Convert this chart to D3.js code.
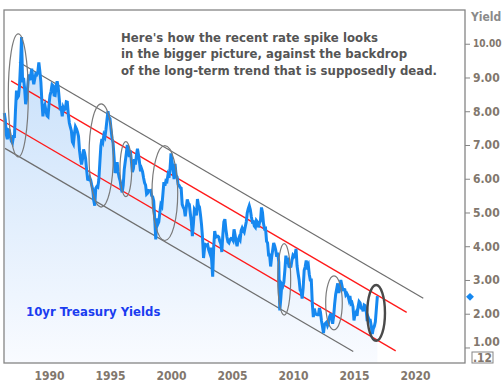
<!DOCTYPE html>
<html>
<head>
<meta charset="utf-8">
<script src="https://cdn.jsdelivr.net/npm/d3@7"></script>
<style>
  body { margin: 0; background: #fff; }
  svg { display: block; }
  text { font-family: "DejaVu Sans Condensed", "DejaVu Sans", sans-serif; font-weight: bold; }
</style>
</head>
<body>
<svg id="chart"></svg>
<script>
// monthly 10yr yields, May 1986 .. Dec 2016
const startYear = 1986, startMonth = 5;
const yields = [
  7.95, 7.75, 7.30, 7.17, 7.45, 7.43, 7.25, 7.11,
  7.06, 7.25, 7.25, 8.02, 8.61, 8.40, 8.45, 8.76, 9.42, 10.2, 8.86, 8.99,
  8.67, 8.21, 8.37, 8.72, 9.09, 8.92, 9.06, 9.26, 8.98, 8.80, 8.96, 9.11,
  9.09, 9.17, 9.45, 9.18, 8.86, 8.28, 7.85, 8.11, 8.19, 8.01, 7.87, 7.84,
  8.21, 8.47, 8.59, 8.79, 8.76, 8.48, 8.47, 8.75, 8.89, 8.72, 8.39, 8.08,
  8.09, 7.85, 8.11, 8.04, 8.07, 8.28, 8.27, 7.90, 7.65, 7.53, 7.42, 7.09,
  7.03, 7.34, 7.54, 7.48, 7.39, 7.26, 6.84, 6.59, 6.42, 6.59, 6.87, 6.77,
  6.60, 6.26, 5.98, 5.97, 6.04, 5.96, 5.81, 5.68, 5.36, 5.20, 5.72, 5.77,
  5.75, 5.97, 6.48, 6.97, 7.18, 7.10, 7.30, 7.24, 7.46, 7.74, 8.00, 7.81,
  7.78, 7.47, 7.20, 7.06, 6.63, 6.17, 6.28, 6.49, 6.20, 6.04, 5.93, 5.71,
  5.60, 5.81, 6.27, 6.51, 6.74, 7.00, 6.87, 6.64, 6.83, 6.53, 6.20, 6.30,
  6.58, 6.42, 6.69, 6.89, 6.71, 6.49, 6.22, 6.30, 6.21, 6.03, 5.88, 5.81,
  5.54, 5.57, 5.65, 5.64, 5.65, 5.50, 5.46, 5.34, 4.81, 4.20, 4.83, 4.65,
  4.72, 5.00, 5.23, 5.18, 5.54, 5.90, 5.79, 5.94, 5.92, 6.11, 6.03, 6.28,
  6.75, 6.52, 6.26, 5.99, 6.44, 6.10, 6.05, 5.83, 5.80, 5.74, 5.72, 5.24,
  5.16, 5.10, 4.89, 5.14, 5.39, 5.28, 5.24, 4.97, 4.73, 4.30, 4.65, 5.09,
  5.04, 4.91, 5.40, 5.21, 5.16, 4.93, 4.65, 4.26, 3.65, 3.94, 4.05, 4.03,
  4.05, 3.90, 3.81, 3.96, 3.57, 3.10, 3.98, 4.45, 4.27, 4.29, 4.30, 4.27,
  4.15, 4.08, 3.83, 4.35, 4.72, 4.80, 4.50, 4.28, 4.13, 4.10, 4.19, 4.23,
  4.22, 4.17, 4.50, 4.34, 4.14, 4.00, 4.18, 4.26, 4.20, 4.46, 4.54, 4.47,
  4.42, 4.57, 4.72, 4.99, 5.11, 5.20, 5.09, 4.88, 4.72, 4.73, 4.60, 4.56,
  4.76, 4.72, 4.56, 4.69, 4.75, 5.15, 5.00, 4.67, 4.52, 4.53, 4.15, 4.10,
  3.74, 3.74, 3.40, 3.68, 3.88, 4.10, 4.01, 3.89, 3.69, 3.81, 3.53, 2.10,
  2.45, 2.87, 2.82, 2.93, 3.29, 3.72, 3.56, 3.59, 3.40, 3.39, 3.40, 3.59,
  3.73, 3.69, 3.73, 3.92, 3.42, 3.20, 3.01, 2.70, 2.65, 2.45, 2.76, 3.29,
  3.39, 3.58, 3.41, 3.46, 3.17, 3.00, 3.00, 2.30, 1.90, 2.15, 2.01, 1.98,
  1.97, 1.97, 2.17, 2.05, 1.80, 1.62, 1.43, 1.68, 1.72, 1.75, 1.65, 1.72,
  1.91, 1.98, 1.96, 1.70, 1.93, 2.30, 2.58, 2.74, 2.90, 2.62, 2.72, 3.00,
  2.86, 2.71, 2.72, 2.71, 2.56, 2.60, 2.54, 2.42, 2.53, 2.30, 2.33, 2.21,
  1.80, 1.98, 2.04, 1.94, 2.20, 2.36, 2.32, 2.17, 2.17, 2.07, 2.26, 2.24,
  2.09, 1.78, 1.89, 1.81, 1.81, 1.64, 1.40, 1.56, 1.63, 1.76, 2.14, 2.52
];
const yearTicks = [1990, 1995, 2000, 2005, 2010, 2015, 2020];
const yieldTicks = [1, 2, 3, 4, 5, 6, 7, 8, 9, 10];
const lastYield = 2.5;
const minLabel = '.12';

// trend channel: [year, yield] end points
const grayLines = [
  [[1987.54, 9.45], [2020.68, 2.46]],
  [[1986.39, 6.90], [2014.94, 0.88]]
];
const redLines = [
  [[1986.89, 8.90], [2019.32, 2.04]],
  [[1985.98, 7.76], [2018.42, 0.90]]
];
// ellipses: [yearFrom, yearTo, yieldLow, yieldHigh]
const turnEllipses = [
  [1986.66, 1988.30, 6.65, 10.29],
  [1993.28, 1995.27, 5.16, 8.22],
  [1995.82, 1996.78, 5.47, 7.10],
  [1998.44, 2000.55, 4.17, 6.98],
  [2008.75, 2009.81, 1.96, 4.08],
  [2012.68, 2014.04, 1.52, 3.12]
];
const currentEllipse = [2016.09, 2017.54, 1.20, 2.85];

const noteLines = [
  "Here's how the recent rate spike looks",
  'in the bigger picture, against the backdrop',
  'of the long-term trend that is supposedly dead.'
];
const noteWidths = [257, 286, 316];
const seriesName = '10yr Treasury Yields';

const width = 503, height = 383;
const plot = { left: 4, top: 10, right: 465, bottom: 363 };

const svg = d3.select('#chart').attr('width', width).attr('height', height);

const x = d3.scaleLinear().domain([1986.31, 2024.1]).range([plot.left, plot.right]);
const y = d3.scaleLinear().domain([0.54, 11.0]).range([plot.bottom, plot.top]);

const data = yields.map((v, i) => ({ t: startYear + (startMonth - 1 + i) / 12, v }));

// gradient under the line
const defs = svg.append('defs');
const grad = defs.append('linearGradient')
  .attr('id', 'area-grad')
  .attr('gradientUnits', 'userSpaceOnUse')
  .attr('x1', 0).attr('x2', 0)
  .attr('y1', plot.top + 20).attr('y2', plot.bottom);
grad.append('stop').attr('offset', '0%').attr('stop-color', '#c4defa');
grad.append('stop').attr('offset', '100%').attr('stop-color', '#f9fbff');

svg.append('path')
  .datum(data)
  .attr('fill', 'url(#area-grad)')
  .attr('d', d3.area().x(d => x(d.t)).y0(plot.bottom).y1(d => y(d.v)));

// channel lines
svg.selectAll('.gray-line')
  .data(grayLines)
  .enter()
  .append('line')
  .attr('x1', d => x(d[0][0])).attr('y1', d => y(d[0][1]))
  .attr('x2', d => x(d[1][0])).attr('y2', d => y(d[1][1]))
  .attr('stroke', '#6e6e6e')
  .attr('stroke-width', 1.2);

svg.selectAll('.red-line')
  .data(redLines)
  .enter()
  .append('line')
  .attr('x1', d => x(d[0][0])).attr('y1', d => y(d[0][1]))
  .attr('x2', d => x(d[1][0])).attr('y2', d => y(d[1][1]))
  .attr('stroke', '#ff1a1a')
  .attr('stroke-width', 1.3);

// yield line
svg.append('path')
  .datum(data)
  .attr('fill', 'none')
  .attr('stroke', '#1688f0')
  .attr('stroke-width', 3)
  .attr('stroke-linejoin', 'miter')
  .attr('d', d3.line().x(d => x(d.t)).y(d => y(d.v)));

// ellipses round the turning points
function ellipse(sel) {
  sel.attr('cx', d => (x(d[0]) + x(d[1])) / 2)
    .attr('cy', d => (y(d[2]) + y(d[3])) / 2)
    .attr('rx', d => (x(d[1]) - x(d[0])) / 2)
    .attr('ry', d => (y(d[2]) - y(d[3])) / 2)
    .attr('fill', 'none');
}
svg.selectAll('.turn')
  .data(turnEllipses)
  .enter()
  .append('ellipse')
  .call(ellipse)
  .attr('stroke', '#7a7a7a')
  .attr('stroke-width', 1.2);

svg.append('ellipse')
  .datum(currentEllipse)
  .call(ellipse)
  .attr('stroke', '#4a4a4a')
  .attr('stroke-width', 2.4);

// frame
svg.append('rect')
  .attr('x', plot.left).attr('y', plot.top)
  .attr('width', plot.right - plot.left).attr('height', plot.bottom - plot.top)
  .attr('fill', 'none')
  .attr('stroke', '#858585')
  .attr('stroke-width', 1.3);

// right axis
const yAxis = svg.append('g')
  .attr('transform', `translate(${plot.right},0)`)
  .call(d3.axisRight(y).tickValues(yieldTicks).tickSize(5).tickPadding(3).tickFormat(d3.format('.2f')));
yAxis.select('.domain').remove();
yAxis.selectAll('line').attr('stroke', '#858585');
yAxis.selectAll('text')
  .attr('fill', '#82776d')
  .style('font-size', d => d === 10 ? '10px' : '12px')
  .attr('dy', d => d === 1 ? '-0.15em' : '0.32em');

svg.append('text')
  .attr('x', 471).attr('y', 21)
  .attr('fill', '#8a8a8a')
  .style('font-size', '12px')
  .text('Yield');

// min label box
svg.append('rect')
  .attr('x', 472).attr('y', 352).attr('width', 21).attr('height', 11)
  .attr('fill', '#fff').attr('stroke', '#858585').attr('stroke-width', 1);
svg.append('text')
  .attr('x', 482.5).attr('y', 361.5)
  .attr('text-anchor', 'middle')
  .attr('fill', '#82776d')
  .style('font-size', '12px')
  .text(minLabel);

// last value marker
svg.append('path')
  .attr('d', d3.symbol(d3.symbolDiamond2, 40)())
  .attr('transform', `translate(${plot.right + 5},${y(lastYield)})`)
  .attr('fill', '#1688f0');

// bottom axis
const xAxis = svg.append('g')
  .attr('transform', `translate(0,${plot.bottom})`)
  .call(d3.axisBottom(x).tickValues(yearTicks).tickSize(0).tickPadding(8).tickFormat(d3.format('d')));
xAxis.select('.domain').remove();
xAxis.selectAll('text')
  .attr('fill', '#82776d')
  .style('font-size', '12px');

// note
svg.append('g')
  .selectAll('text')
  .data(noteLines)
  .enter()
  .append('text')
  .attr('x', 121)
  .attr('y', (d, i) => 41.7 + i * 16.7)
  .attr('fill', '#555')
  .style('font-size', '13px')
  .attr('textLength', (d, i) => noteWidths[i])
  .attr('lengthAdjust', 'spacing')
  .text(d => d);

svg.append('text')
  .attr('x', 26).attr('y', 315.5)
  .attr('fill', '#1a3cf0')
  .style('font-size', '13px')
  .text(seriesName);
</script>
</body>
</html>
